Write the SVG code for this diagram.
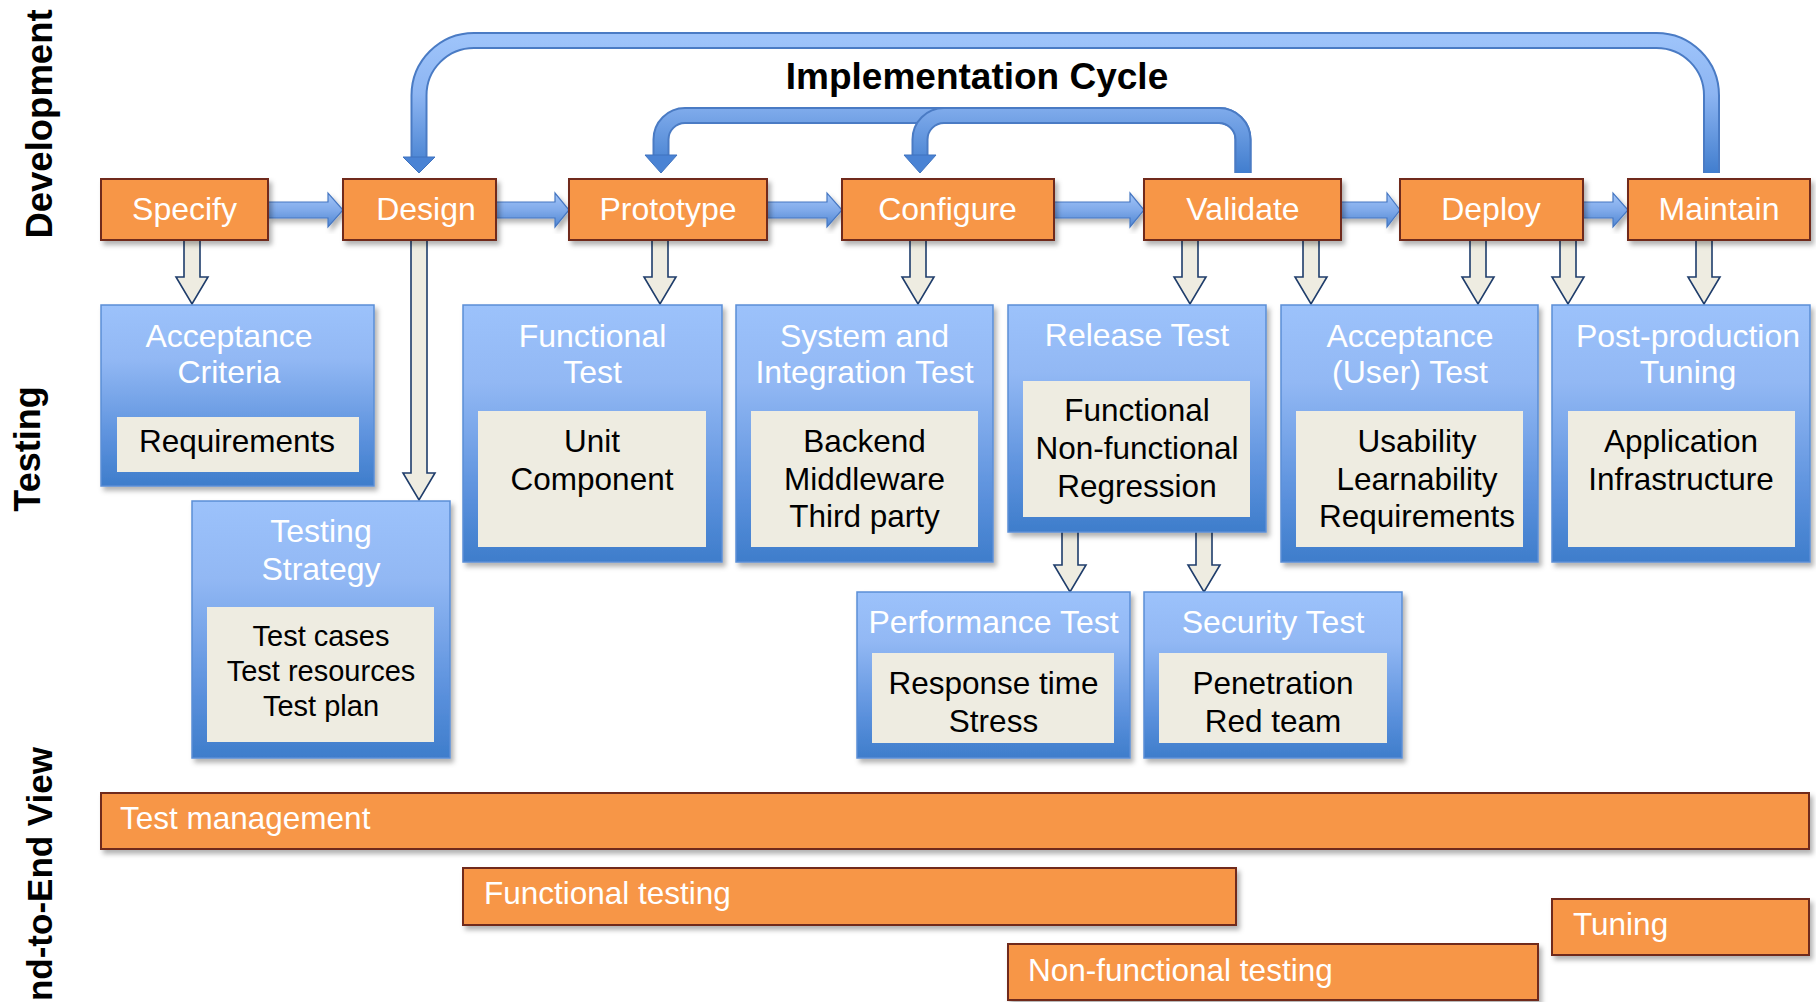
<svg xmlns="http://www.w3.org/2000/svg" width="1816" height="1002" viewBox="0 0 1816 1002">
<defs>
<style>
.t{font-family:"Liberation Sans",Arial,sans-serif}
.ob{fill:#F79646;stroke:#70291C;stroke-width:2}
.ot{font-family:"Liberation Sans",Arial,sans-serif;font-size:32px;fill:#fff;text-anchor:middle}
.bt{font-family:"Liberation Sans",Arial,sans-serif;font-size:32px;fill:#fff;text-anchor:middle}
.it{font-family:"Liberation Sans",Arial,sans-serif;font-size:31.5px;fill:#000;text-anchor:middle}
.st{font-family:"Liberation Sans",Arial,sans-serif;font-size:29px;fill:#000;text-anchor:middle}
.bar{font-family:"Liberation Sans",Arial,sans-serif;font-size:31.5px;fill:#fff}
.vt{font-family:"Liberation Sans",Arial,sans-serif;font-weight:bold;fill:#000}
.bb{fill:url(#bg);stroke:#5B8ED6;stroke-width:1.5}
.ib{fill:#EEECE1}
.da{fill:#EEECE1;stroke:#1F3D6B;stroke-width:1.6;stroke-linejoin:miter}
.ha{fill:url(#hg);stroke:#4677C2;stroke-width:1.2}
.lb{fill:none;stroke:#4A7BC4;stroke-width:17}
.lf{fill:none;stroke:url(#lg);stroke-width:13}
.lh{fill:#4A83D4;stroke:#3F72BF;stroke-width:1}
</style>
<linearGradient id="bg" x1="0" y1="0" x2="0" y2="1">
<stop offset="0" stop-color="#9CC2FB"/>
<stop offset="0.3" stop-color="#92B8F4"/>
<stop offset="0.75" stop-color="#5A90DC"/>
<stop offset="1" stop-color="#3E7DCB"/>
</linearGradient>
<linearGradient id="hg" x1="0" y1="0" x2="0" y2="1">
<stop offset="0" stop-color="#A2C5F8"/>
<stop offset="0.5" stop-color="#80AAEA"/>
<stop offset="1" stop-color="#4F86D2"/>
</linearGradient>
<linearGradient id="lg" gradientUnits="userSpaceOnUse" x1="0" y1="40" x2="0" y2="175">
<stop offset="0" stop-color="#9DC3FA"/>
<stop offset="0.4" stop-color="#8DB5F2"/>
<stop offset="1" stop-color="#3F7CCD"/>
</linearGradient>
<filter id="sh" x="-5%" y="-10%" width="115%" height="130%">
<feDropShadow dx="3" dy="4" stdDeviation="2.5" flood-color="#000" flood-opacity="0.3"/>
</filter>
</defs>
<rect width="1816" height="1002" fill="#fff"/>
<line x1="69" y1="4" x2="1795" y2="4" stroke="#3A3A3A" stroke-width="4" filter="url(#sh)"/>

<g id="lane-labels">
<text class="vt" font-size="36.5" transform="translate(52,124) rotate(-90)" text-anchor="middle">Development</text>
<text class="vt" font-size="36" transform="translate(40,449) rotate(-90)" text-anchor="middle">Testing</text>
<text class="vt" font-size="35" transform="translate(52,747) rotate(-90)" text-anchor="end">End-to-End View</text>
</g>

<text id="cycle-title" x="977" y="89" class="t" font-size="37" font-weight="bold" text-anchor="middle" fill="#000">Implementation Cycle</text>

<g id="connectors">
<path class="lb" d="M1711.5 173 V95.5 A55 55 0 0 0 1656.5 40.5 H474 A55 55 0 0 0 419 95.5 V157"/>
<path class="lf" d="M1711.5 173 V95.5 A55 55 0 0 0 1656.5 40.5 H474 A55 55 0 0 0 419 95.5 V158"/>
<polygon class="lh" points="403,157 435,157 419,173"/>
<path class="lb" d="M1243 173 V139.5 A24 24 0 0 0 1219 115.5 H685 A24 24 0 0 0 661 139.5 V156"/>
<path class="lf" d="M1243 173 V139.5 A24 24 0 0 0 1219 115.5 H685 A24 24 0 0 0 661 139.5 V157"/>
<polygon class="lh" points="645,155 677,155 661,173"/>
<path class="lb" d="M1243 173 V139.5 A24 24 0 0 0 1219 115.5 H944 A24 24 0 0 0 920 139.5 V156"/>
<path class="lf" d="M1243 173 V139.5 A24 24 0 0 0 1219 115.5 H944 A24 24 0 0 0 920 139.5 V157"/>
<polygon class="lh" points="904,155 936,155 920,173"/>

<polygon class="ha" filter="url(#sh)" points="268,202 328,202 328,193 343,210 328,227 328,218 268,218"/>
<polygon class="ha" filter="url(#sh)" points="496,202 555,202 555,193 569,210 555,227 555,218 496,218"/>
<polygon class="ha" filter="url(#sh)" points="767,202 827,202 827,193 842,210 827,227 827,218 767,218"/>
<polygon class="ha" filter="url(#sh)" points="1054,202 1130,202 1130,193 1144,210 1130,227 1130,218 1054,218"/>
<polygon class="ha" filter="url(#sh)" points="1341,202 1387,202 1387,193 1400,210 1387,227 1387,218 1341,218"/>
<polygon class="ha" filter="url(#sh)" points="1583,202 1613,202 1613,193 1628,210 1613,227 1613,218 1583,218"/>

<polygon class="da" points="184,238 200,238 200,277 208,277 192,304 176,277 184,277"/>
<polygon class="da" points="411,238 427,238 427,473 435,473 419,500 403,473 411,473"/>
<polygon class="da" points="652,238 668,238 668,277 676,277 660,304 644,277 652,277"/>
<polygon class="da" points="910,238 926,238 926,277 934,277 918,304 902,277 910,277"/>
<polygon class="da" points="1182,238 1198,238 1198,277 1206,277 1190,304 1174,277 1182,277"/>
<polygon class="da" points="1303,238 1319,238 1319,277 1327,277 1311,304 1295,277 1303,277"/>
<polygon class="da" points="1470,238 1486,238 1486,277 1494,277 1478,304 1462,277 1470,277"/>
<polygon class="da" points="1560,238 1576,238 1576,277 1584,277 1568,304 1552,277 1560,277"/>
<polygon class="da" points="1696,238 1712,238 1712,277 1720,277 1704,304 1688,277 1696,277"/>
<polygon class="da" points="1062,531 1078,531 1078,565 1086,565 1070,592 1054,565 1062,565"/>
<polygon class="da" points="1196,531 1212,531 1212,565 1220,565 1204,592 1188,565 1196,565"/>
</g>

<g id="specify"><rect class="ob" filter="url(#sh)" x="101" y="179" width="167" height="61"/><text class="ot" x="184.5" y="220">Specify</text></g>
<g id="design"><rect class="ob" filter="url(#sh)" x="343" y="179" width="153" height="61"/><text class="ot" x="426" y="220">Design</text></g>
<g id="prototype"><rect class="ob" filter="url(#sh)" x="569" y="179" width="198" height="61"/><text class="ot" x="668" y="220">Prototype</text></g>
<g id="configure"><rect class="ob" filter="url(#sh)" x="842" y="179" width="212" height="61"/><text class="ot" x="947.5" y="220">Configure</text></g>
<g id="validate"><rect class="ob" filter="url(#sh)" x="1144" y="179" width="197" height="61"/><text class="ot" x="1243" y="220">Validate</text></g>
<g id="deploy"><rect class="ob" filter="url(#sh)" x="1400" y="179" width="183" height="61"/><text class="ot" x="1491" y="220">Deploy</text></g>
<g id="maintain"><rect class="ob" filter="url(#sh)" x="1628" y="179" width="182" height="61"/><text class="ot" x="1719" y="220">Maintain</text></g>

<g id="acceptance-criteria">
<rect class="bb" filter="url(#sh)" x="101" y="305" width="273" height="181"/>
<rect class="ib" x="117" y="417" width="242" height="55"/>
<text class="bt" x="229" y="347">Acceptance</text><text class="bt" x="229" y="383">Criteria</text>
<text class="it" x="237" y="452">Requirements</text>
</g>
<g id="testing-strategy">
<rect class="bb" filter="url(#sh)" x="192" y="501" width="258" height="257"/>
<rect class="ib" x="207" y="607" width="227" height="135"/>
<text class="bt" x="321" y="542">Testing</text><text class="bt" x="321" y="580">Strategy</text>
<text class="st" x="321" y="646">Test cases</text><text class="st" x="321" y="681">Test resources</text><text class="st" x="321" y="716">Test plan</text>
</g>
<g id="functional-test">
<rect class="bb" filter="url(#sh)" x="463" y="305" width="259" height="257"/>
<rect class="ib" x="478" y="411" width="228" height="136"/>
<text class="bt" x="592.5" y="347">Functional</text><text class="bt" x="592.5" y="383">Test</text>
<text class="it" x="592" y="452">Unit</text><text class="it" x="592" y="490">Component</text>
</g>
<g id="system-integration-test">
<rect class="bb" filter="url(#sh)" x="736" y="305" width="257" height="257"/>
<rect class="ib" x="751" y="411" width="227" height="136"/>
<text class="bt" x="864.5" y="347">System and</text><text class="bt" x="864.5" y="383">Integration Test</text>
<text class="it" x="864.5" y="452">Backend</text><text class="it" x="864.5" y="490">Middleware</text><text class="it" x="864.5" y="527">Third party</text>
</g>
<g id="release-test">
<rect class="bb" filter="url(#sh)" x="1008" y="305" width="258" height="227"/>
<rect class="ib" x="1023" y="381" width="227" height="136"/>
<text class="bt" x="1137" y="346">Release Test</text>
<text class="it" x="1137" y="421">Functional</text><text class="it" x="1137" y="459">Non-functional</text><text class="it" x="1137" y="497">Regression</text>
</g>
<g id="acceptance-user-test">
<rect class="bb" filter="url(#sh)" x="1281" y="305" width="257" height="257"/>
<rect class="ib" x="1296" y="411" width="227" height="136"/>
<text class="bt" x="1410" y="347">Acceptance</text><text class="bt" x="1410" y="383">(User) Test</text>
<text class="it" x="1417" y="452">Usability</text><text class="it" x="1417" y="490">Learnability</text><text class="it" x="1417" y="527">Requirements</text>
</g>
<g id="post-production-tuning">
<rect class="bb" filter="url(#sh)" x="1552" y="305" width="258" height="257"/>
<rect class="ib" x="1568" y="411" width="227" height="136"/>
<text class="bt" x="1688" y="347">Post-production</text><text class="bt" x="1688" y="383">Tuning</text>
<text class="it" x="1681" y="452">Application</text><text class="it" x="1681" y="490">Infrastructure</text>
</g>
<g id="performance-test">
<rect class="bb" filter="url(#sh)" x="857" y="592" width="273" height="166"/>
<rect class="ib" x="872" y="653" width="242" height="90"/>
<text class="bt" x="993.5" y="633">Performance Test</text>
<text class="it" x="993.5" y="694">Response time</text><text class="it" x="993.5" y="732">Stress</text>
</g>
<g id="security-test">
<rect class="bb" filter="url(#sh)" x="1144" y="592" width="258" height="166"/>
<rect class="ib" x="1159" y="653" width="228" height="90"/>
<text class="bt" x="1273" y="633">Security Test</text>
<text class="it" x="1273" y="694">Penetration</text><text class="it" x="1273" y="732">Red team</text>
</g>

<g id="test-management"><rect class="ob" filter="url(#sh)" x="101" y="793" width="1708" height="56"/><text class="bar" x="120" y="829">Test management</text></g>
<g id="functional-testing"><rect class="ob" filter="url(#sh)" x="463" y="868" width="773" height="57"/><text class="bar" x="484" y="904">Functional testing</text></g>
<g id="tuning"><rect class="ob" filter="url(#sh)" x="1552" y="899" width="257" height="56"/><text class="bar" x="1573" y="935">Tuning</text></g>
<g id="non-functional-testing"><rect class="ob" filter="url(#sh)" x="1008" y="944" width="530" height="56"/><text class="bar" x="1028" y="981">Non-functional testing</text></g>
</svg>
